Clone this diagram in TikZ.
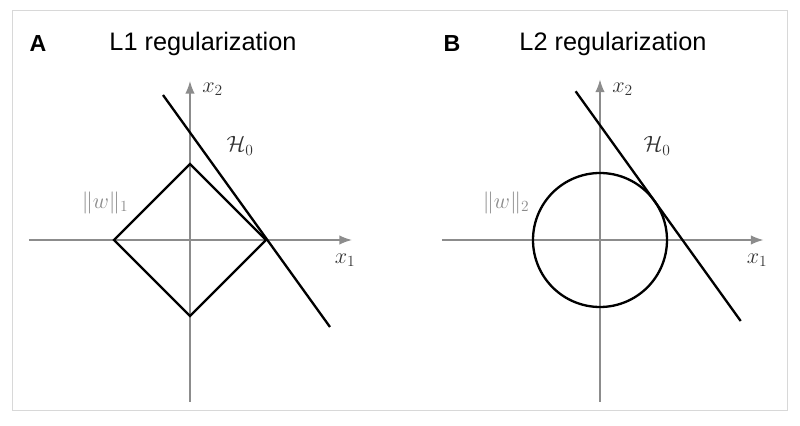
\documentclass[tikz,border=0pt]{standalone}
\usepackage{fix-cm}
\usepackage{fontspec}
\usepackage{amsmath}
\usetikzlibrary{arrows.meta,calc}
\newfontfamily\panelfont{Liberation Sans}
\definecolor{axisgray}{HTML}{8C8C8C}
\definecolor{framegray}{HTML}{D8D8D8}
\definecolor{normgray}{HTML}{8A8A8A}
\definecolor{labelgray}{HTML}{333333}
\newcommand{\lblsize}{\fontsize{21}{25}\selectfont}

\begin{document}
\begin{tikzpicture}[>={Latex[length=12pt,width=9pt]},
  axis/.style={->,axisgray,line width=1.4pt},
  curve/.style={black,line width=2.2pt},
  panel/.style={font=\panelfont\bfseries\fontsize{22}{26}\selectfont},
  title/.style={font=\panelfont\fontsize{24}{28}\selectfont},
  mlabel/.style={labelgray,font=\lblsize},
  nlabel/.style={normgray,font=\lblsize}]
  \useasboundingbox (0,0) rectangle (26.667,14.2);
  \draw[framegray,line width=0.8pt] (0.4,0.533) rectangle (26.233,13.867);
  % L1 panel
  \begin{scope}[shift={(6.333,6.2)}]
  \node[panel] (panelA) at (-5.067,6.533) {A};
  \node[title] (titleA) at (0.433,6.533) {L1 regularization};
  \draw[axis] (-5.367,0) -- (5.4,0);
  \draw[axis] (0,-5.4) -- (0,5.3);
  \draw[curve,line join=miter] (2.533,0) -- (0,2.533) -- (-2.533,0) -- (0,-2.533) -- cycle;
  \draw[curve] (-0.9,4.833) -- (4.667,-2.9);
  \node[mlabel] (xtwoA) at (0.75,5.033) {$x_2$};
  \node[mlabel] (xoneA) at (5.167,-0.667) {$x_1$};
  \node[mlabel] (hA) at (1.667,3.133) {$\mathcal{H}_0$};
  \node[nlabel] (normA) at (-2.833,1.233) {$\|w\|_1$};
  \end{scope}
  % L2 panel
  \begin{scope}[shift={(20,6.2)}]
  \node[panel] (panelB) at (-4.933,6.533) {B};
  \node[title] (titleB) at (0.433,6.533) {L2 regularization};
  \draw[axis] (-5.267,0) -- (5.45,0);
  \draw[axis] (0,-5.4) -- (0,5.35);
  \draw[curve] (0,0) circle (2.233);
  \coordinate (touch) at (35.7:2.233);
  \draw[curve] ($(touch)+(125.7:4.5)$) -- ($(touch)+(-54.3:4.93)$);
  \node[mlabel] (xtwoB) at (0.75,5.033) {$x_2$};
  \node[mlabel] (xoneB) at (5.233,-0.667) {$x_1$};
  \node[mlabel] (hB) at (1.9,3.133) {$\mathcal{H}_0$};
  \node[nlabel] (normB) at (-3.133,1.233) {$\|w\|_2$};
  \end{scope}
\end{tikzpicture}
\end{document}
